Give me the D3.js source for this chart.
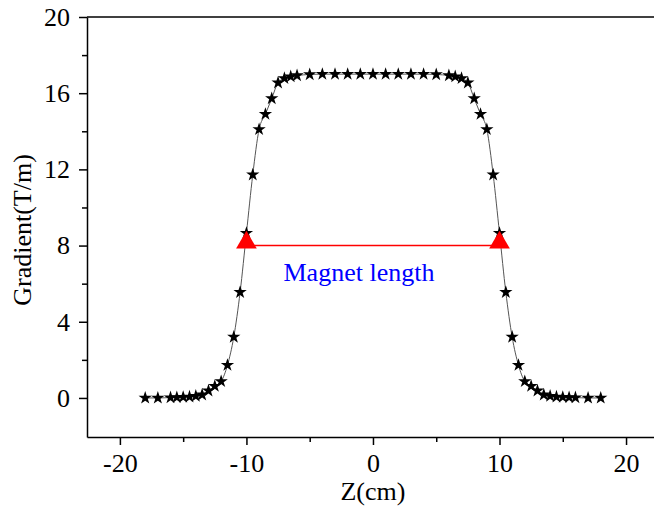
<!DOCTYPE html>
<html>
<head>
<meta charset="utf-8">
<script src="https://cdn.jsdelivr.net/npm/d3@7"></script>
<style>
  html, body { margin: 0; padding: 0; background: #fff; }
  svg { display: block; }
  svg text { font-family: "Liberation Serif", serif; }
</style>
</head>
<body>
<svg id="chart" width="654" height="507"></svg>
<script>
// Axial position along the magnet (cm)
const zValues = [-18, -17, -16, -15.5, -15, -14.5, -14, -13.5, -13, -12.5, -12, -11.5, -11, -10.5,
  -10, -9.5, -9, -8.5, -8, -7.5, -7, -6.5, -6, -5, -4, -3, -2, -1, 0, 1, 2, 3, 4, 5,
  6, 6.5, 7, 7.5, 8, 8.5, 9, 9.5, 10, 10.5, 11, 11.5, 12, 12.5, 13, 13.5, 14, 14.5,
  15, 15.5, 16, 17, 18];
// Field gradient at each position (T/m)
const gradientValues = [0.0, 0.0, 0.02, 0.03, 0.04, 0.06, 0.1, 0.17, 0.38, 0.62, 0.87, 1.72, 3.2, 5.55,
  8.65, 11.72, 14.1, 14.9, 15.72, 16.55, 16.78, 16.87, 16.93, 16.98, 17.0, 17.0, 17.0, 17.0, 17.0, 17.0, 17.0, 17.0, 17.0, 16.98,
  16.93, 16.87, 16.78, 16.55, 15.72, 14.9, 14.1, 11.72, 8.65, 5.55, 3.2, 1.72, 0.87, 0.62, 0.38, 0.17, 0.1, 0.06,
  0.04, 0.03, 0.02, 0.0, 0.0];
// Magnet length marker: ends of the effective length at half gradient
const markerZ = [-10, 10];
const markerG = [8, 8];
const markerLabel = "Magnet length";

const xTickValues = [-20, -10, 0, 10, 20];
const xMinorTicks = [-15, -5, 5, 15];
const yTickValues = [0, 4, 8, 12, 16, 20];
const yMinorTicks = [2, 6, 10, 14, 18];

const serif = "'Liberation Serif', serif";
const fontSize = 26;
const svg = d3.select("#chart");
const plotLeft = 87, plotTop = 17, plotBottom = 437, plotRight = 664;

const x = d3.scaleLinear().domain([-22.6, 23]).range([plotLeft, plotRight]);
const y = d3.scaleLinear().domain([-2.05, 20]).range([plotBottom, plotTop]);

const data = zValues.map((z, i) => ({ z, g: gradientValues[i] }));

// Frame (top edge and right edge)
svg.append("line").attr("x1", plotLeft).attr("x2", plotRight).attr("y1", plotTop).attr("y2", plotTop)
  .attr("stroke", "#000").attr("stroke-width", 1.5);
svg.append("line").attr("x1", plotRight).attr("x2", plotRight).attr("y1", plotTop).attr("y2", plotBottom)
  .attr("stroke", "#000").attr("stroke-width", 1.5);

// Axes
const xAxis = svg.append("g").attr("transform", `translate(0,${plotBottom})`)
  .call(d3.axisBottom(x).tickValues(xTickValues).tickSize(8).tickPadding(9).tickSizeOuter(0));
const xMinor = svg.append("g").attr("transform", `translate(0,${plotBottom})`)
  .call(d3.axisBottom(x).tickValues(xMinorTicks).tickSize(5).tickFormat("").tickSizeOuter(0));
const yAxis = svg.append("g").attr("transform", `translate(${plotLeft},0)`)
  .call(d3.axisLeft(y).tickValues(yTickValues).tickSize(8).tickPadding(9).tickSizeOuter(0));
const yMinor = svg.append("g").attr("transform", `translate(${plotLeft},0)`)
  .call(d3.axisLeft(y).tickValues(yMinorTicks).tickSize(5).tickFormat("").tickSizeOuter(0));

[xAxis, xMinor, yAxis, yMinor].forEach(g => {
  g.attr("font-family", serif).attr("font-size", fontSize);
  g.select(".domain").attr("stroke", "#000").attr("stroke-width", 1.5);
  g.selectAll(".tick line").attr("stroke", "#000").attr("stroke-width", 1.5);
  g.selectAll(".tick text").attr("fill", "#000");
});
xMinor.select(".domain").remove();
yMinor.select(".domain").remove();
xAxis.selectAll(".tick text").text(d => d < 0 ? "-" + Math.abs(d) : d);

// Axis titles
svg.append("text").attr("x", x(0)).attr("y", 500).attr("text-anchor", "middle")
  .attr("font-family", serif).attr("font-size", fontSize).text("Z(cm)");
svg.append("text").attr("transform", "translate(31,230) rotate(-90)")
  .attr("text-anchor", "middle").attr("font-family", serif).attr("font-size", fontSize).text("Gradient(T/m)");

// Gradient profile
const line = d3.line().x(d => x(d.z)).y(d => y(d.g)).curve(d3.curveMonotoneX);
svg.append("path").datum(data).attr("d", line)
  .attr("fill", "none").attr("stroke", "#555").attr("stroke-width", 1);

svg.append("g").selectAll("path").data(data).join("path")
  .attr("transform", d => `translate(${x(d.z)},${y(d.g)})`)
  .attr("d", d3.symbol(d3.symbolStar, 55))
  .attr("fill", "#000");

// Magnet length marker
svg.append("line")
  .attr("x1", x(markerZ[0])).attr("x2", x(markerZ[1]))
  .attr("y1", y(markerG[0])).attr("y2", y(markerG[1]))
  .attr("stroke", "#ff0000").attr("stroke-width", 1.5);
svg.append("g").selectAll("path").data(markerZ).join("path")
  .attr("transform", (d, i) => `translate(${x(d)},${y(markerG[i]) - 3})`)
  .attr("d", d3.symbol(d3.symbolTriangle, 185))
  .attr("fill", "#ff0000");

svg.append("text").attr("x", (x(markerZ[0]) + x(markerZ[1])) / 2 - 14).attr("y", 281)
  .attr("text-anchor", "middle").attr("fill", "#0000ff")
  .attr("font-family", serif).attr("font-size", fontSize).text(markerLabel);
</script>
</body>
</html>
